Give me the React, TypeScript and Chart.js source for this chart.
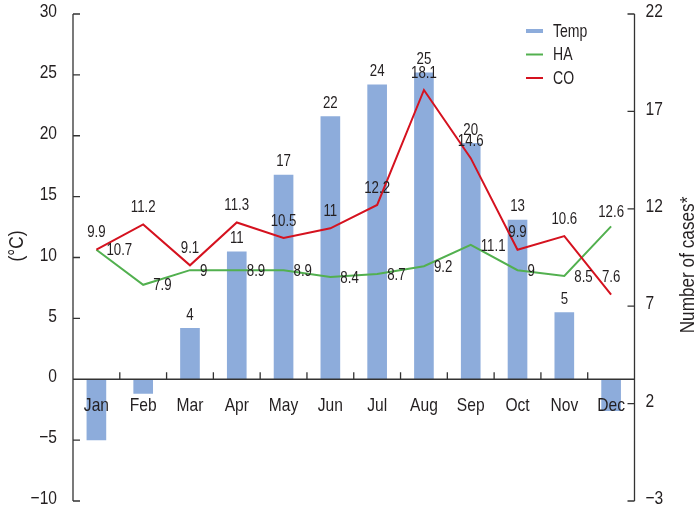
import React, { useEffect, useRef } from "react";
import { Chart, registerables } from "chart.js";

Chart.register(...registerables);

const FONT = "'Liberation Sans', Arial, sans-serif";
const TEXT = "#231f20";
const AXIS = "#333333";

const months = ["Jan", "Feb", "Mar", "Apr", "May", "Jun", "Jul", "Aug", "Sep", "Oct", "Nov", "Dec"];
const tempValues = [-5.0, -1.2, 4.2, 10.5, 16.8, 21.6, 24.2, 25.2, 19.4, 13.1, 5.5, -2.6];
const tempLabels = ["", "", "4", "11", "17", "22", "24", "25", "20", "13", "5", ""];
const haValues = [9.9, 8.1, 8.85, 8.85, 8.85, 8.5, 8.65, 9.05, 10.15, 8.85, 8.55, 11.1];
const haLabels = ["10.7", "7.9", "9", "8.9", "8.9", "8.4", "8.7", "9.2", "11.1", "9", "8.5", "12.6"];
const coValues = [9.9, 11.2, 9.1, 11.3, 10.5, 11, 12.2, 18.1, 14.6, 9.9, 10.6, 7.6];
const coLabels = ["9.9", "11.2", "9.1", "11.3", "10.5", "11", "12.2", "18.1", "14.6", "9.9", "10.6", "7.6"];
const leftTicks = [-10, -5, 0, 5, 10, 15, 20, 25, 30];
const rightTicks = [-3, 2, 7, 12, 17, 22];
const legendNames = ["Temp", "HA", "CO"];

const BAR_COLOR = "#8dacdb";
const HA_COLOR = "#52b04f";
const CO_COLOR = "#d5121f";

const fmt = (v: number) => (v < 0 ? "\u2212" + Math.abs(v) : String(v));

function txt(
  ctx: CanvasRenderingContext2D,
  s: string,
  x: number,
  y: number,
  size: number,
  align: CanvasTextAlign,
  sx = 0.8,
  rot = 0
) {
  ctx.save();
  ctx.translate(x, y);
  if (rot) ctx.rotate(rot);
  ctx.scale(sx, 1);
  ctx.font = `${size}px ${FONT}`;
  ctx.textAlign = align;
  ctx.textBaseline = "middle";
  ctx.fillStyle = TEXT;
  ctx.fillText(s, 0, 0);
  ctx.restore();
}

const decorPlugin = {
  id: "decor",
  afterDatasetsDraw(chart: any) {
    const ctx = chart.ctx as CanvasRenderingContext2D;
    const x = chart.scales.x;
    const y = chart.scales.y;
    const y1 = chart.scales.y1;
    tempValues.forEach((v, i) => {
      if (!tempLabels[i]) return;
      txt(ctx, tempLabels[i], x.getPixelForValue(i), y.getPixelForValue(v) - 13, 17, "center", 0.78);
    });
    coValues.forEach((v, i) => {
      txt(ctx, coLabels[i], x.getPixelForValue(i), y1.getPixelForValue(v) - 17, 17, "center", 0.78);
    });
    haValues.forEach((v, i) => {
      const px = x.getPixelForValue(i);
      const py = y1.getPixelForValue(v);
      if (i === haValues.length - 1) {
        txt(ctx, haLabels[i], px, py - 14, 17, "center", 0.78);
      } else {
        txt(ctx, haLabels[i], px + 10, py + 1, 17, "left", 0.78);
      }
    });
  },
  afterDraw(chart: any) {
    const ctx = chart.ctx as CanvasRenderingContext2D;
    const { left, right, top, bottom } = chart.chartArea;
    const x = chart.scales.x;
    const y = chart.scales.y;
    const y1 = chart.scales.y1;
    const y0 = y.getPixelForValue(0);
    ctx.save();
    ctx.strokeStyle = AXIS;
    ctx.lineWidth = 1.3;
    ctx.beginPath();
    ctx.moveTo(left, top);
    ctx.lineTo(left, bottom);
    ctx.moveTo(right, top);
    ctx.lineTo(right, bottom);
    ctx.moveTo(left, y0);
    ctx.lineTo(right, y0);
    leftTicks.forEach((v) => {
      const py = y.getPixelForValue(v);
      ctx.moveTo(left, py);
      ctx.lineTo(left + 7, py);
    });
    rightTicks.forEach((v) => {
      const py = y1.getPixelForValue(v);
      ctx.moveTo(right, py);
      ctx.lineTo(right - 7, py);
    });
    const half = (x.getPixelForValue(1) - x.getPixelForValue(0)) / 2;
    for (let i = 0; i < months.length - 1; i++) {
      const px = x.getPixelForValue(i) + half;
      ctx.moveTo(px, y0);
      ctx.lineTo(px, y0 - 7);
    }
    ctx.stroke();
    ctx.restore();

    // tick labels
    leftTicks.forEach((v) => {
      txt(ctx, fmt(v), left - 16, y.getPixelForValue(v) - 2, 19, "right", 0.82);
    });
    rightTicks.forEach((v) => {
      txt(ctx, fmt(v), right + 11, y1.getPixelForValue(v) - 2, 19, "left", 0.82);
    });
    months.forEach((m, i) => {
      txt(ctx, m, x.getPixelForValue(i), y0 + 27, 19, "center", 0.82);
    });

    // legend
    const lx0 = 526;
    const lx1 = 543;
    const rows = [31, 54.5, 78];
    const colors = [BAR_COLOR, HA_COLOR, CO_COLOR];
    const widths = [4, 2, 2];
    ctx.save();
    rows.forEach((ry, i) => {
      ctx.strokeStyle = colors[i];
      ctx.lineWidth = widths[i];
      ctx.beginPath();
      ctx.moveTo(lx0, ry);
      ctx.lineTo(lx1, ry);
      ctx.stroke();
      txt(ctx, legendNames[i], 553, ry + 1, 18, "left", 0.78);
    });
    ctx.restore();

    // axis titles
    txt(ctx, "(°C)", 17, 246, 20, "center", 0.86, -Math.PI / 2);
    txt(ctx, "Number of cases*", 688, 265, 20, "center", 0.86, -Math.PI / 2);
  },
};

function zeroPad(scale: any) {
  scale.paddingTop = 0;
  scale.paddingBottom = 0;
  scale.paddingLeft = 0;
  scale.paddingRight = 0;
}

export default function App() {
  const ref = useRef<HTMLCanvasElement | null>(null);
  useEffect(() => {
    if (!ref.current) return;
    const chart = new Chart(ref.current, {
      type: "bar",
      data: {
        labels: months,
        datasets: [
          {
            type: "line",
            label: "CO",
            data: coValues,
            yAxisID: "y1",
            borderColor: CO_COLOR,
            backgroundColor: CO_COLOR,
            borderWidth: 2,
            pointRadius: 0,
            tension: 0,
            order: 1,
          } as any,
          {
            type: "line",
            label: "HA",
            data: haValues,
            yAxisID: "y1",
            borderColor: HA_COLOR,
            backgroundColor: HA_COLOR,
            borderWidth: 2,
            pointRadius: 0,
            tension: 0,
            order: 2,
          } as any,
          {
            type: "bar",
            label: "Temp",
            data: tempValues,
            yAxisID: "y",
            backgroundColor: BAR_COLOR,
            borderWidth: 0,
            categoryPercentage: 1,
            barPercentage: 0.42,
            order: 3,
          } as any,
        ],
      },
      options: {
        responsive: false,
        animation: false,
        devicePixelRatio: 1,
        layout: { padding: { top: 14, bottom: 9, left: 0, right: 0 } },
        plugins: { legend: { display: false }, tooltip: { enabled: false } },
        scales: {
          x: {
            type: "category",
            position: { y: 0 } as any,
            grid: { display: false, drawTicks: false },
            border: { display: false },
            ticks: { display: false },
            afterFit: zeroPad,
          },
          y: {
            type: "linear",
            position: "left",
            min: -10,
            max: 30,
            grid: { display: false, drawTicks: false },
            border: { display: false },
            ticks: { display: false },
            afterBuildTicks: (s: any) => {
              s.ticks = leftTicks.map((v) => ({ value: v }));
            },
            afterFit: (s: any) => {
              s.width = 73;
              zeroPad(s);
            },
          },
          y1: {
            type: "linear",
            position: "right",
            min: -3,
            max: 22,
            grid: { display: false, drawTicks: false },
            border: { display: false },
            ticks: { display: false },
            afterBuildTicks: (s: any) => {
              s.ticks = rightTicks.map((v) => ({ value: v }));
            },
            afterFit: (s: any) => {
              s.width = 65.5;
              zeroPad(s);
            },
          },
        },
      } as any,
      plugins: [decorPlugin],
    });
    return () => chart.destroy();
  }, []);
  return (
    <div style={{ position: "fixed", left: 0, top: 0, width: 700, height: 510, background: "#fff" }}>
      <canvas ref={ref} width={700} height={510} style={{ width: 700, height: 510 }} />
    </div>
  );
}
